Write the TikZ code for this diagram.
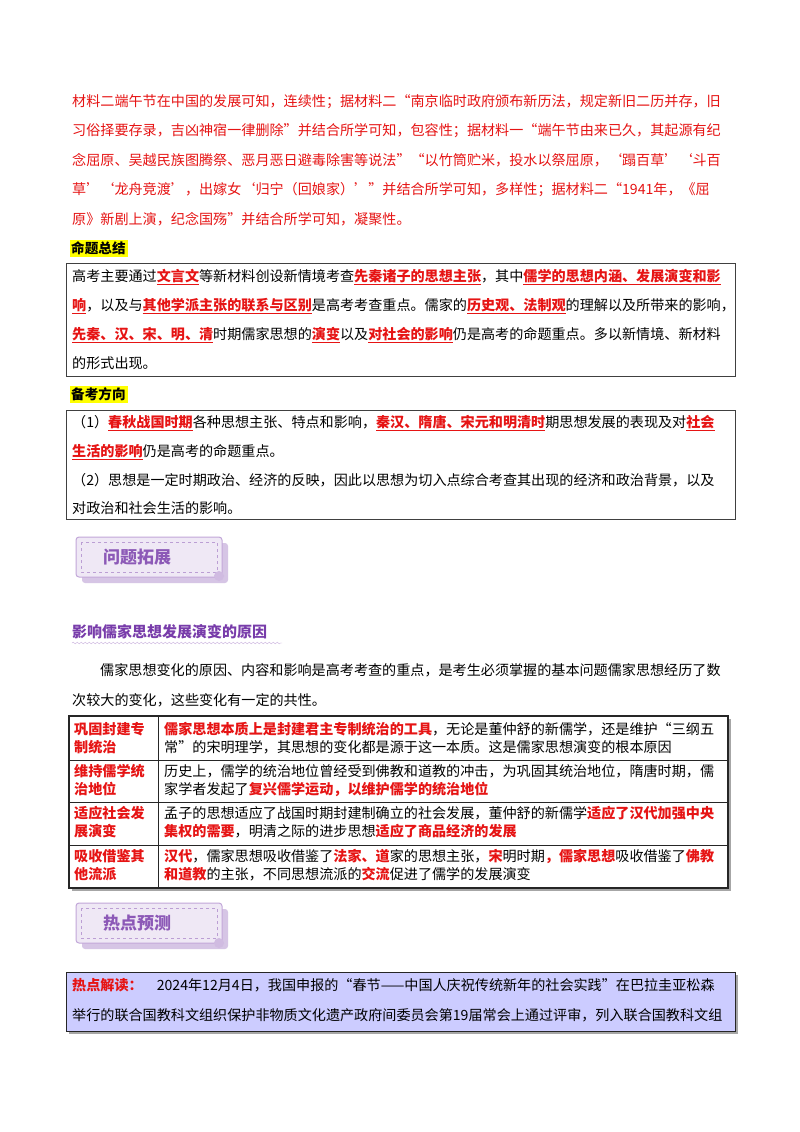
\documentclass[tikz,border=0pt]{standalone}
\usepackage{fontspec}
\setmainfont{Noto Sans CJK SC}
\usetikzlibrary{decorations.pathmorphing}
\XeTeXlinebreaklocale "zh"
\XeTeXlinebreakskip=0pt plus 3pt
\definecolor{myred}{RGB}{230,20,20}
\definecolor{mypurple}{RGB}{120,60,170}
\definecolor{lav}{RGB}{204,204,255}
\definecolor{hlyellow}{RGB}{255,255,0}
\newcommand{\hlx}[1]{\textcolor{myred}{\underline{\textbf{#1}}}}
\newcommand{\rbx}[1]{\textcolor{myred}{\textbf{#1}}}
\tikzset{
  ln/.style={anchor=west,inner sep=0pt,font=\fontsize{14.1}{15}\selectfont},
  boxline/.style={draw=black!75,line width=0.9pt},
  badgebox/.style={rounded corners=3pt,fill=mypurple!12,draw=mypurple!45,line width=1pt},
}
\newcommand{\fl}[2]{\makebox[#1pt][s]{#2}}
\begin{document}
\begin{tikzpicture}[x=1pt,y=-1pt]
\useasboundingbox[fill=white] (0,0) rectangle (800,1132);
% red paragraph
\node[ln,text=myred] (p1) at (72,102) {\fl{658}{材料二端午节在中国的发展可知，连续性；据材料二“南京临时政府颁布新历法，规定新旧二历并存，旧}};
\node[ln,text=myred] (p2) at (72,131) {\fl{658}{习俗择要存录，吉凶神宿一律删除”并结合所学可知，包容性；据材料一“端午节由来已久，其起源有纪}};
\node[ln,text=myred] (p3) at (72,160) {\fl{658}{念屈原、吴越民族图腾祭、恶月恶日避毒除害等说法”“以竹筒贮米，投水以祭屈原，‘蹋百草’‘斗百}};
\node[ln,text=myred] (p4) at (72,190) {\fl{658}{草’‘龙舟竞渡’，出嫁女‘归宁（回娘家）’”并结合所学可知，多样性；据材料二“1941年，《屈}};
\node[ln,text=myred] (p5) at (72,219) {原》新剧上演，纪念国殇”并结合所学可知，凝聚性。};
% 命题总结
\fill[hlyellow] (70,240) rectangle (128,257);
\node[ln,font=\fontsize{13.6}{14}\selectfont\bfseries] (h1) at (71,248.5) {命题总结};
\draw[boxline] (66,263) rectangle (735,376);
\node[ln] (b1) at (72,277) {\fl{658}{高考主要通过\hlx{文言文}等新材料创设新情境考查\hlx{先秦诸子的思想主张}，其中\hlx{儒学的思想内涵、发展演变和影}}};
\node[ln] (b2) at (72,306) {\fl{658}{\hlx{响}，以及与\hlx{其他学派主张的联系与区别}是高考考查重点。儒家的\hlx{历史观、法制观}的理解以及所带来的影响，}};
\node[ln] (b3) at (72,335) {\fl{658}{\hlx{先秦、汉、宋、明、清}时期儒家思想的\hlx{演变}以及\hlx{对社会的影响}仍是高考的命题重点。多以新情境、新材料}};
\node[ln] (b4) at (72,363) {的形式出现。};
% 备考方向
\fill[hlyellow] (70,386) rectangle (128,403);
\node[ln,font=\fontsize{13.6}{14}\selectfont\bfseries] (h2) at (71,394.5) {备考方向};
\draw[boxline] (66,410) rectangle (735,519);
\node[ln] (c1) at (72,423) {\fl{652}{（1）\hlx{春秋战国时期}各种思想主张、特点和影响，\hlx{秦汉、隋唐、宋元和明清时}期思想发展的表现及对\hlx{社会}}};
\node[ln] (c2) at (72,452) {\hlx{生活的影响}仍是高考的命题重点。};
\node[ln] (c3) at (72,480) {\fl{652}{（2）思想是一定时期政治、经济的反映，因此以思想为切入点综合考查其出现的经济和政治背景，以及}};
\node[ln] (c4) at (72,508) {对政治和社会生活的影响。};
% badge 1
\fill[mypurple!30,rounded corners=3pt] (82,543) rectangle (228,583);
\draw[badgebox] (76,537) rectangle (222,577);
\draw[mypurple!50,dashed,line width=0.6pt] (81,542) rectangle (217,572);
\fill[mypurple!35] (219,576) circle (5);
\node[font=\fontsize{17}{18}\selectfont\bfseries,text=mypurple!85] (bd1) at (137,557) {问题拓展};
% heading
\node[ln,font=\fontsize{15}{16}\selectfont\bfseries,text=mypurple] (h3) at (72,632) {影响儒家思想发展演变的原因};
\draw[mypurple!40,decorate,decoration={snake,amplitude=0.8pt,segment length=4pt}] (72,643) -- (282,643);
\node[ln] (q1) at (100,670) {\fl{628}{儒家思想变化的原因、内容和影响是高考考查的重点，是考生必须掌握的基本问题儒家思想经历了数}};
\node[ln] (q2) at (72,700) {次较大的变化，这些变化有一定的共性。};
% table
\fill[black!35] (72,719) rectangle (731,891);
\fill[white] (69,716) rectangle (728,888);
\draw[black!85,line width=1.3pt] (69,716) rectangle (728,888);
\foreach \yy in {760,802,845}{\draw[black!85,line width=1pt] (69,\yy) -- (728,\yy);}
\draw[black!85,line width=1pt] (158,716) -- (158,888);
\tikzset{tc/.style={ln,font=\fontsize{14.1}{15}\selectfont\bfseries,text=myred}}
\node[tc] (t1a) at (74,729) {巩固封建专};
\node[tc] (t1b) at (74,747) {制统治};
\node[ln] (t1c) at (164,729) {\fl{558}{\rbx{儒家思想本质上是封建君主专制统治的工具}，无论是董仲舒的新儒学，还是维护“三纲五}};
\node[ln] (t1d) at (164,747) {常”的宋明理学，其思想的变化都是源于这一本质。这是儒家思想演变的根本原因};
\node[tc] (t2a) at (74,771) {维持儒学统};
\node[tc] (t2b) at (74,789) {治地位};
\node[ln] (t2c) at (164,771) {\fl{558}{历史上，儒学的统治地位曾经受到佛教和道教的冲击，为巩固其统治地位，隋唐时期，儒}};
\node[ln] (t2d) at (164,789) {家学者发起了\rbx{复兴儒学运动，以维护儒学的统治地位}};
\node[tc] (t3a) at (74,813) {适应社会发};
\node[tc] (t3b) at (74,831) {展演变};
\node[ln] (t3c) at (164,813) {\fl{558}{孟子的思想适应了战国时期封建制确立的社会发展，董仲舒的新儒学\rbx{适应了汉代加强中央}}};
\node[ln] (t3d) at (164,831) {\rbx{集权的需要}，明清之际的进步思想\rbx{适应了商品经济的发展}};
\node[tc] (t4a) at (74,856) {吸收借鉴其};
\node[tc] (t4b) at (74,874) {他流派};
\node[ln] (t4c) at (164,856) {\fl{558}{\rbx{汉代}，儒家思想吸收借鉴了\rbx{法家、道}家的思想主张，\rbx{宋}明时期\rbx{，儒家思想}吸收借鉴了\rbx{佛教}}};
\node[ln] (t4d) at (164,874) {\rbx{和道教}的主张，不同思想流派的\rbx{交流}促进了儒学的发展演变};
% badge 2
\fill[mypurple!30,rounded corners=3pt] (82,909) rectangle (228,949);
\draw[badgebox] (76,903) rectangle (222,943);
\draw[mypurple!50,dashed,line width=0.6pt] (81,908) rectangle (217,938);
\fill[mypurple!35] (219,943) circle (5);
\node[font=\fontsize{17}{18}\selectfont\bfseries,text=mypurple!85] (bd2) at (137,923) {热点预测};
% hot box
\fill[black!35] (69,975) rectangle (738,1034);
\draw[fill=lav,draw=black!85,line width=1pt] (66,972) rectangle (735,1031);
\node[ln] (r1) at (72,985) {\fl{656}{\rbx{热点解读：}\quad 2024年12月4日，我国申报的“春节——中国人庆祝传统新年的社会实践”在巴拉圭亚松森}};
\node[ln] (r2) at (72,1015) {\fl{656}{举行的联合国教科文组织保护非物质文化遗产政府间委员会第19届常会上通过评审，列入联合国教科文组}};
\end{tikzpicture}
\end{document}
